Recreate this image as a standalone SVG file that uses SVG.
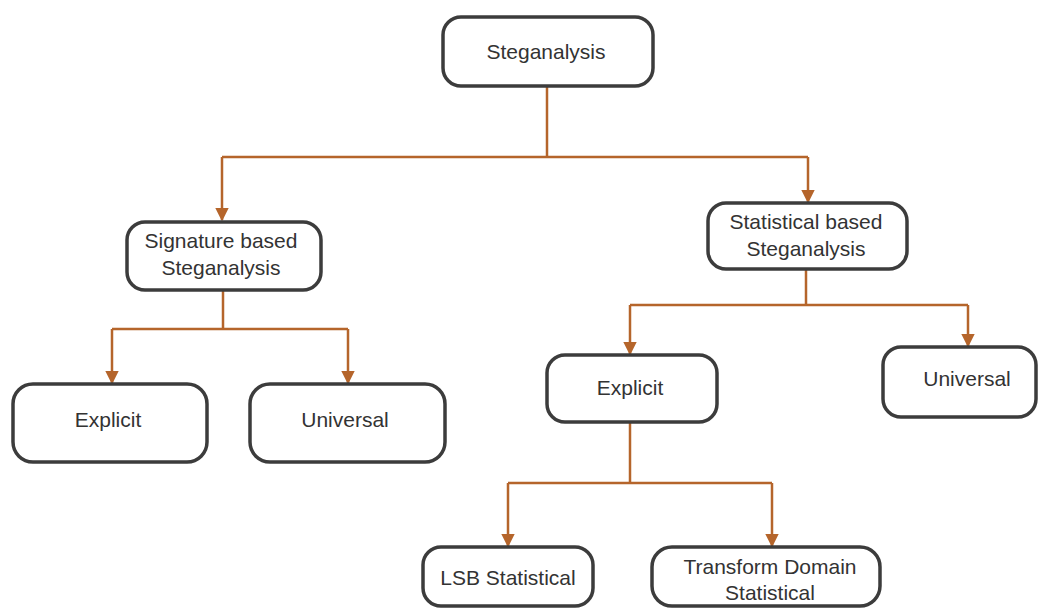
<svg xmlns="http://www.w3.org/2000/svg" width="1041" height="609" viewBox="0 0 1041 609">
  <style>
    .box { fill: #ffffff; stroke: #3c3c3c; stroke-width: 3.5; }
    .lbl { font-family: "Liberation Sans", Arial, sans-serif; font-size: 21px; fill: #333333; text-anchor: middle; }
    .wire { fill: none; stroke: #b5652b; stroke-width: 2.5; }
  </style>
  <defs>
    <marker id="arrow" viewBox="0 0 10 10" refX="9" refY="5" markerWidth="5.5" markerHeight="5.5" orient="auto" markerUnits="strokeWidth">
      <path d="M0,0 L10,5 L0,10 z" fill="#b5652b"/>
    </marker>
  </defs>
  <rect width="1041" height="609" fill="#ffffff"/>

  <g id="connectors">
    <!-- root fan-out -->
    <path class="wire" d="M547,86 V157"/>
    <path class="wire" d="M222,157 H808"/>
    <path class="wire" d="M222,157 V220" marker-end="url(#arrow)"/>
    <path class="wire" d="M808,157 V202" marker-end="url(#arrow)"/>
    <!-- signature based fan-out -->
    <path class="wire" d="M223,290 V329"/>
    <path class="wire" d="M112,329 H348"/>
    <path class="wire" d="M112,329 V383" marker-end="url(#arrow)"/>
    <path class="wire" d="M348,329 V383" marker-end="url(#arrow)"/>
    <!-- statistical based fan-out -->
    <path class="wire" d="M806,269 V305"/>
    <path class="wire" d="M630,305 H968"/>
    <path class="wire" d="M630,305 V354" marker-end="url(#arrow)"/>
    <path class="wire" d="M968,305 V346" marker-end="url(#arrow)"/>
    <!-- explicit statistical fan-out -->
    <path class="wire" d="M630,422 V483"/>
    <path class="wire" d="M508,483 H772"/>
    <path class="wire" d="M508,483 V546" marker-end="url(#arrow)"/>
    <path class="wire" d="M772,483 V546" marker-end="url(#arrow)"/>
  </g>

  <g id="steganalysis">
    <rect class="box" x="443" y="17" width="210" height="69" rx="18"/>
    <text class="lbl" x="546" y="59">Steganalysis</text>
  </g>

  <g id="signature-based">
    <rect class="box" x="127" y="222" width="194" height="68" rx="18"/>
    <text class="lbl" x="221" y="248">Signature based</text>
    <text class="lbl" x="221" y="275">Steganalysis</text>
  </g>

  <g id="statistical-based">
    <rect class="box" x="708" y="203" width="199" height="66" rx="18"/>
    <text class="lbl" x="806" y="229">Statistical based</text>
    <text class="lbl" x="806" y="256">Steganalysis</text>
  </g>

  <g id="signature-explicit">
    <rect class="box" x="13" y="384" width="194" height="78" rx="20"/>
    <text class="lbl" x="108" y="427">Explicit</text>
  </g>

  <g id="signature-universal">
    <rect class="box" x="250" y="384" width="195" height="78" rx="20"/>
    <text class="lbl" x="345" y="427">Universal</text>
  </g>

  <g id="statistical-explicit">
    <rect class="box" x="547" y="355" width="170" height="67" rx="18"/>
    <text class="lbl" x="630" y="395">Explicit</text>
  </g>

  <g id="statistical-universal">
    <rect class="box" x="883" y="347" width="153" height="70" rx="18"/>
    <text class="lbl" x="967" y="386">Universal</text>
  </g>

  <g id="lsb-statistical">
    <rect class="box" x="423" y="547" width="170" height="59" rx="18"/>
    <text class="lbl" x="508" y="585">LSB Statistical</text>
  </g>

  <g id="transform-domain-statistical">
    <rect class="box" x="652" y="547" width="228" height="59" rx="20"/>
    <text class="lbl" x="770" y="574">Transform Domain</text>
    <text class="lbl" x="770" y="600">Statistical</text>
  </g>
</svg>
